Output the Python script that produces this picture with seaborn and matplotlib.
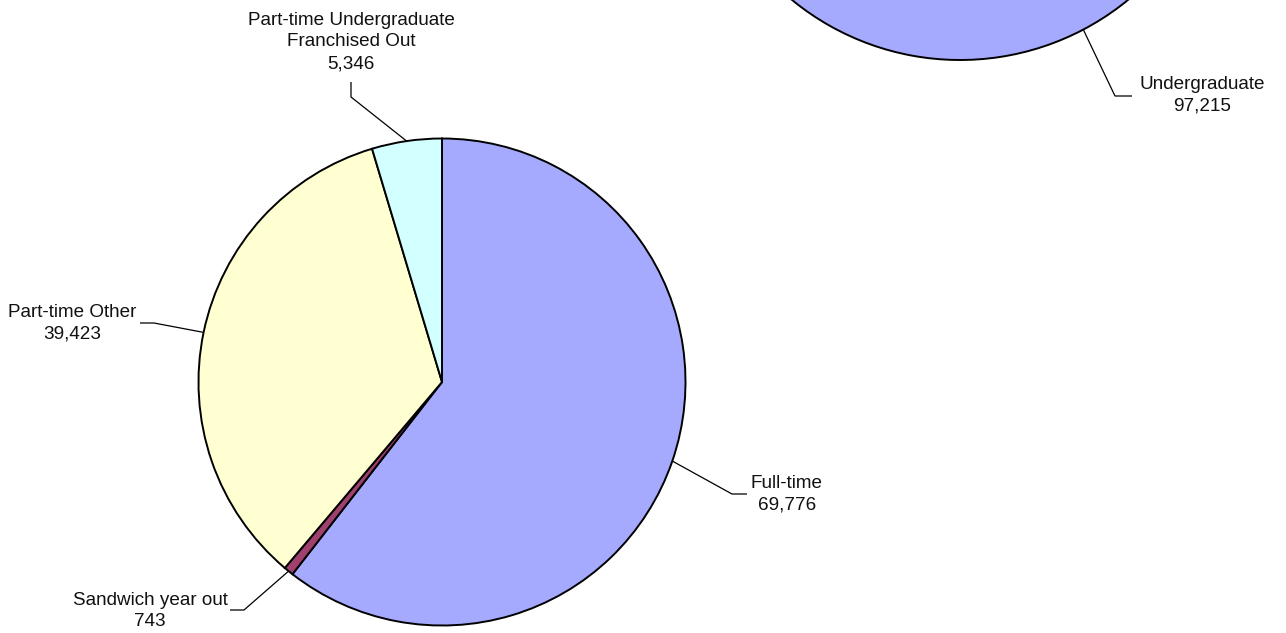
import matplotlib
matplotlib.use('Agg')
import matplotlib.pyplot as plt
import seaborn as sns
import numpy as np

# Data
labels = ['Full-time', 'Sandwich year out', 'Part-time Other', 'Part-time Undergraduate\nFranchised Out']
values = [69776, 743, 39423, 5346]
colors = ['#A6AAFF', '#A0406F', '#FFFFD2', '#D2FFFF']

# top pie: only the Undergraduate slice is visible, the rest is cut off (estimated)
top_labels = ['Undergraduate', '']
top_values = [97215, 17700]
top_colors = ['#A6AAFF', '#FFFFD2']

W, H = 1286, 633

sns.set_theme(style='white')
plt.rcParams['font.family'] = ['Liberation Sans', 'DejaVu Sans']

fig = plt.figure(figsize=(W / 100, H / 100), dpi=100)
ax = fig.add_axes([0, 0, 1, 1])

def draw_pie(vals, cols, center, radius):
    wedges, _ = ax.pie(vals, colors=cols, startangle=90, counterclock=False,
                       center=center, radius=radius,
                       wedgeprops=dict(edgecolor='black', linewidth=1.4))
    return wedges

def edge_point(w):
    ang = np.deg2rad((w.theta1 + w.theta2) / 2)
    cx, cy = w.center
    return cx + w.r * np.cos(ang), cy + w.r * np.sin(ang)

main_wedges = draw_pie(values, colors, (442, H - 382), 243.5)
top_wedges = draw_pie(top_values, top_colors, (960, H + 205), 265)

# leader layout (pixel coords from top): elbow, end, text centre
layout = [
    ((732, 494), (747, 494), (787, 494)),
    ((244, 610), (230, 610), (150, 611)),
    ((154, 323), (140, 323), (72, 323)),
    ((351, 97), (351, 82), (351, 42)),
]

def label_slice(w, name, val, lay):
    (ex, ey), (nx, ny), (tx, ty) = lay
    px, py = edge_point(w)
    ax.plot([px, ex, nx], [py, H - ey, H - ny], color='black', lw=0.9,
            solid_capstyle='butt')
    ax.text(tx, H - ty, f'{name}\n{val:,}', ha='center', va='center',
            fontsize=13.6, color='#111111', linespacing=1.38)

for w, name, val, lay in zip(main_wedges, labels, values, layout):
    label_slice(w, name, val, lay)

label_slice(top_wedges[0], top_labels[0], top_values[0],
            ((1115, 96), (1132, 96), (1202, 95)))

ax.set_xlim(0, W)
ax.set_ylim(0, H)
ax.set_aspect('equal')
ax.axis('off')

fig.savefig('out.png', dpi=100, facecolor='white')
